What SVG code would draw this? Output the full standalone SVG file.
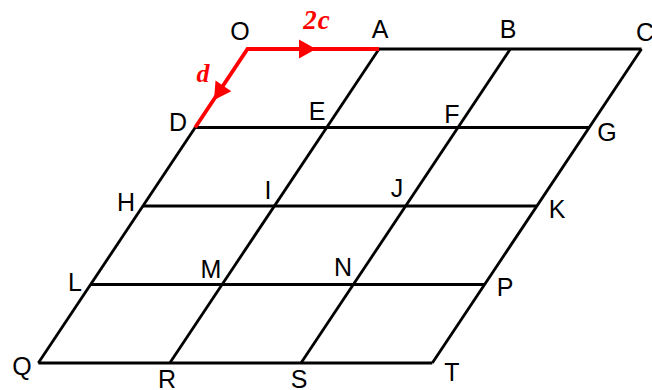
<svg xmlns="http://www.w3.org/2000/svg" xmlns:xlink="http://www.w3.org/1999/xlink" width="652" height="390" viewBox="0 0 652 390">
  <style>
    .grid { stroke: #000; stroke-width: 2.8; fill: none; stroke-linecap: butt; }
    .red { stroke: #ff0000; stroke-width: 3.8; fill: none; stroke-linejoin: miter; }
    .lbl { font-family: "Liberation Sans", Arial, sans-serif; font-size: 25px; fill: #000; text-anchor: middle; }
    .vec { font-family: "Liberation Serif", "Times New Roman", serif; font-style: italic; font-weight: bold; fill: #ff0000; text-anchor: middle; }
  </style>
  <defs>
    <path id="ah" d="M0,0 L-17,-9.5 L-17,9.5 Z" fill="#ff0000"/>
  </defs>
  <rect width="652" height="390" fill="#fff"/>

  <g id="connectors">
    <line class="grid" x1="379" y1="49" x2="641.5" y2="49"/>
    <line class="grid" x1="195.2" y1="127.5" x2="589.2" y2="127.5"/>
    <line class="grid" x1="142.9" y1="206" x2="536.9" y2="206"/>
    <line class="grid" x1="90.6" y1="284.5" x2="484.6" y2="284.5"/>
    <line class="grid" x1="38.3" y1="363" x2="432.3" y2="363"/>
    <line class="grid" x1="195.2" y1="127.5" x2="38.3" y2="363"/>
    <line class="grid" x1="379" y1="49" x2="169.8" y2="363"/>
    <line class="grid" x1="510.3" y1="49" x2="301" y2="363"/>
    <line class="grid" x1="641.5" y1="49" x2="432.3" y2="363"/>
    <polyline class="red" points="195.2,127.5 247.5,49 379,49"/>
    <use xlink:href="#ah" transform="translate(316,49)"/>
    <use xlink:href="#ah" transform="translate(214,100) rotate(123.7)"/>
    <text class="vec" x="317" y="28.5" font-size="27" letter-spacing="1">2c</text>
    <text class="vec" x="203" y="81.5" font-size="26">d</text>
  </g>

  <g id="O"><text class="lbl" x="240" y="40">O</text></g>
  <g id="A"><text class="lbl" x="380" y="38">A</text></g>
  <g id="B"><text class="lbl" x="508" y="38">B</text></g>
  <g id="C"><text class="lbl" x="645" y="41">C</text></g>
  <g id="D"><text class="lbl" x="178" y="131">D</text></g>
  <g id="E"><text class="lbl" x="317" y="120">E</text></g>
  <g id="F"><text class="lbl" x="452" y="123">F</text></g>
  <g id="G"><text class="lbl" x="607" y="141">G</text></g>
  <g id="H"><text class="lbl" x="126" y="211">H</text></g>
  <g id="I"><text class="lbl" x="268" y="199">I</text></g>
  <g id="J"><text class="lbl" x="397" y="197">J</text></g>
  <g id="K"><text class="lbl" x="557" y="218">K</text></g>
  <g id="L"><text class="lbl" x="75" y="291">L</text></g>
  <g id="M"><text class="lbl" x="211" y="278">M</text></g>
  <g id="N"><text class="lbl" x="343" y="276">N</text></g>
  <g id="P"><text class="lbl" x="505" y="296">P</text></g>
  <g id="Q"><text class="lbl" x="22" y="375">Q</text></g>
  <g id="R"><text class="lbl" x="167" y="388">R</text></g>
  <g id="S"><text class="lbl" x="299" y="388">S</text></g>
  <g id="T"><text class="lbl" x="452" y="381">T</text></g>
</svg>
